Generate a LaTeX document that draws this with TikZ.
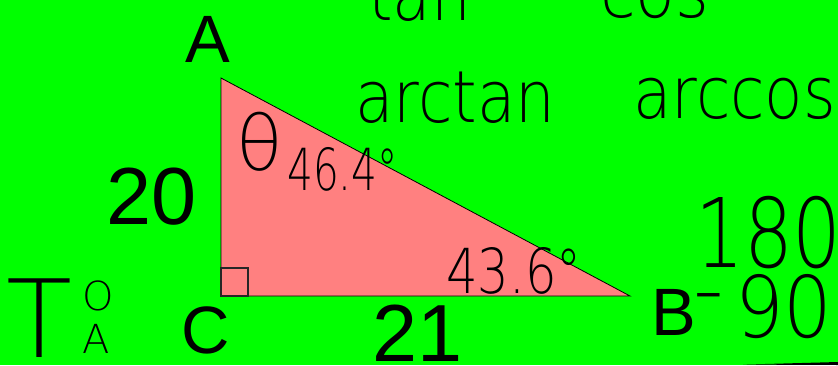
\documentclass[tikz,border=0pt]{standalone}
\usepackage{fontspec}
\usepackage{xcolor}
\setmainfont{Liberation Sans}
\newfontfamily\handfont{DejaVuSans-ExtraLight.ttf}
\definecolor{board}{RGB}{0,255,0}
\definecolor{tripink}{RGB}{255,128,128}
\begin{document}
\begin{tikzpicture}[x=1pt, y=-1pt,
  vlabel/.style={inner sep=0pt, anchor=base, font=\fontsize{67}{67}\selectfont},
  slabel/.style={inner sep=0pt, anchor=base, font=\fontsize{81}{81}\selectfont},
  hand/.style 2 args={inner sep=0pt, anchor=base west,
    font=\handfont\addfontfeature{FakeStretch=#2}\fontsize{#1}{#1}\selectfont}]
  \useasboundingbox (0,0) rectangle (838,365);
  \clip (0,0) rectangle (838,365);
  \fill[board] (0,0) rectangle (838,365);
  % triangle
  \coordinate (A) at (221,78);
  \coordinate (B) at (630,296);
  \coordinate (C) at (221,296);
  \filldraw[fill=tripink, draw=black, line width=0.8pt] (A) -- (B) -- (C) -- cycle;
  \draw[line width=1.5pt, draw=black!85] (C) rectangle ++(27,-28);
  % vertex and side labels
  \node[vlabel] (labA) at (208,62) {A};
  \node[vlabel] (labC) at (206,353) {C};
  \node[vlabel] (labB) at (674,335) {B};
  \node[slabel] (side20) at (152,224) {20};
  \node[slabel] (side21) at (418,361) {21};
  % handwriting
  \node[hand={72}{0.87}] (tan) at (368,20) {tan};
  \node[hand={72}{0.9}] (cos) at (600,17) {cos};
  \node[hand={72}{0.87}] (arctan) at (355,122) {arctan};
  \node[hand={72}{0.87}] (arccos) at (633,118) {arccos};
  \node[hand={76}{1}] (theta) at (236,170) {θ};
  \node[hand={58}{0.7}] (angA) at (287,190) {46.4°};
  \node[hand={62}{0.8}] (angB) at (446,293) {43.6°};
  \node[hand={108}{1}] (toaT) at (6,357) {T};
  \node[hand={40}{1}] (toaO) at (82,310) {O};
  \node[hand={40}{1}] (toaA) at (82,353) {A};
  \node[hand={96}{0.8}] (n180) at (695,267) {180};
  \node[hand={85}{1}] (minus) at (693,318) {-};
  \node[hand={85}{0.9}] (n90) at (735,337) {90};
  \fill (743,364.6) -- (838,362) -- (838,365) -- cycle;
\end{tikzpicture}
\end{document}
